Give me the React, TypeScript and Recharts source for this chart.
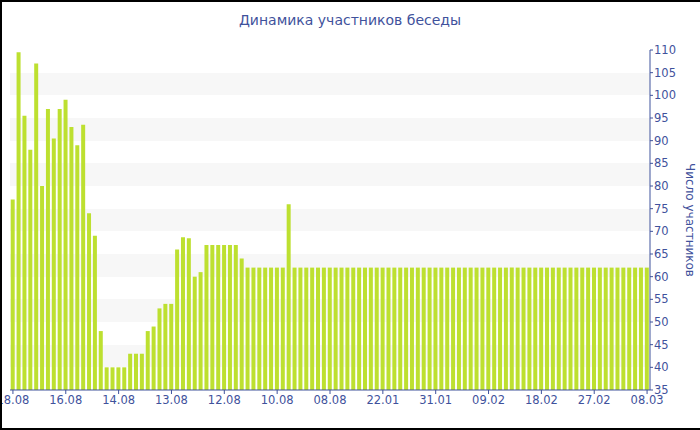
import { BarChart, Bar, XAxis, YAxis, CartesianGrid } from "recharts";

// participants per day
const counts = [
  77, 109.5, 95.5, 88, 107, 80, 97, 90.5, 97, 99,
  93, 89, 93.5, 74, 69, 48, 40, 40, 40, 40,
  43, 43, 43, 48, 49, 53, 54, 54, 66, 68.7,
  68.5, 60, 61, 67, 67, 67, 67, 67, 67, 64,
  62, 62, 62, 62, 62, 62, 62, 76, 62, 62,
  62, 62, 62, 62, 62, 62, 62, 62, 62, 62,
  62, 62, 62, 62, 62, 62, 62, 62, 62, 62,
  62, 62, 62, 62, 62, 62, 62, 62, 62, 62,
  62, 62, 62, 62, 62, 62, 62, 62, 62, 62,
  62, 62, 62, 62, 62, 62, 62, 62, 62, 62,
  62, 62, 62, 62, 62, 62, 62, 62, 62,
];

const dateLabels = [
  "18.08", "16.08", "14.08", "13.08", "12.08", "10.08", "08.08",
  "22.01", "31.01", "09.02", "18.02", "27.02", "08.03",
];

const yTicks = [35, 40, 45, 50, 55, 60, 65, 70, 75, 80, 85, 90, 95, 100, 105, 110];
const minorTicks = [
  35, 37.5, 40, 42.5, 45, 47.5, 50, 52.5, 55, 57.5, 60, 62.5, 65, 67.5, 70, 72.5,
  75, 77.5, 80, 82.5, 85, 87.5, 90, 92.5, 95, 97.5, 100, 102.5, 105, 107.5, 110,
];

const data = counts.map((v, i) => ({ i, v }));

const BLUE = "#3f529c";

export default function App() {
  return (
    <div
      style={{
        position: "absolute",
        top: 0,
        left: 0,
        width: 700,
        height: 430,
        fontFamily: "DejaVu Sans",
        background: "#fff",
      }}
    >
      <BarChart
        width={700}
        height={430}
        data={data}
        margin={{ top: 50, right: 0, bottom: 10, left: 10 }}
        barCategoryGap="12%"
      >
        <CartesianGrid
          vertical={false}
          stroke="transparent"
          horizontalFill={["#ffffff", "#f7f7f7"]}
        />
        <XAxis
          dataKey="i"
          interval={8}
          tickFormatter={(i) => dateLabels[i / 9]}
          axisLine={{ stroke: BLUE }}
          tickLine={{ stroke: BLUE }}
          tickSize={4}
          height={30}
          tick={{ fill: BLUE, fontSize: 11.5 }}
        />
        <YAxis
          yAxisId="minor"
          orientation="right"
          width={0}
          mirror
          type="number"
          domain={[35, 110]}
          ticks={minorTicks}
          allowDataOverflow
          tick={false}
          axisLine={false}
          tickLine={{ stroke: BLUE }}
          tickSize={3}
        />
        <YAxis
          orientation="right"
          width={50}
          type="number"
          domain={[35, 110]}
          ticks={yTicks}
          allowDataOverflow
          interval={0}
          axisLine={{ stroke: BLUE }}
          tickLine={{ stroke: BLUE }}
          tickSize={3}
          tickMargin={1}
          tick={{ fill: BLUE, fontSize: 11.5, textAnchor: "start" }}
        />
        <Bar dataKey="v" fill="#bde030" isAnimationActive={false} />
      </BarChart>
      <div
        style={{
          position: "absolute",
          top: 12,
          left: 0,
          width: 700,
          textAlign: "center",
          fontSize: 14,
          color: BLUE,
        }}
      >
        Динамика участников беседы
      </div>
      <div
        style={{
          position: "absolute",
          left: 690,
          top: 220,
          transform: "translate(-50%, -50%) rotate(90deg)",
          whiteSpace: "nowrap",
          fontSize: 12,
          color: BLUE,
        }}
      >
        Число участников
      </div>
      <div
        style={{
          position: "absolute",
          inset: 0,
          borderTop: "2px solid #000",
          borderLeft: "2px solid #000",
          borderBottom: "2px solid #000",
          pointerEvents: "none",
        }}
      />
    </div>
  );
}
